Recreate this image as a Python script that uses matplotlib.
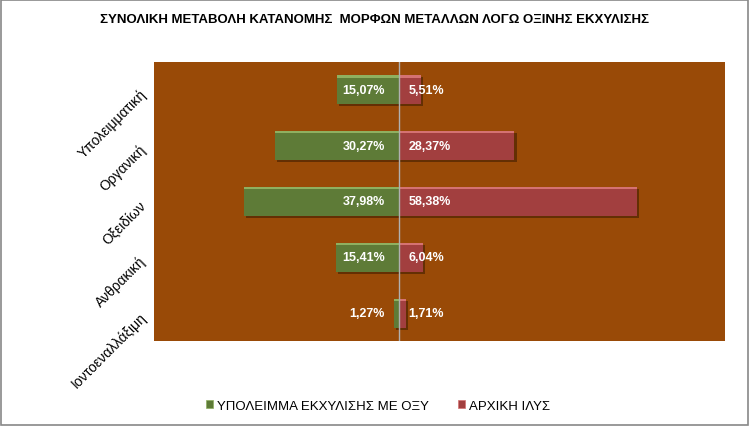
import matplotlib.pyplot as plt
import matplotlib.patheffects as pe
from matplotlib.patches import Rectangle, Patch

# Δεδομένα του διαγράμματος
categories = ['Υπολειμματική', 'Οργανική', 'Οξειδίων', 'Ανθρακική', 'Ιοντοεναλλάξιμη']
residue = [15.07, 30.27, 37.98, 15.41, 1.27]   # ΥΠΟΛΕΙΜΜΑ ΕΚΧΥΛΙΣΗΣ ΜΕ ΟΞΥ
initial = [5.51, 28.37, 58.38, 6.04, 1.71]     # ΑΡΧΙΚΗ ΙΛΥΣ
series_names = ['ΥΠΟΛΕΙΜΜΑ ΕΚΧΥΛΙΣΗΣ ΜΕ ΟΞΥ', 'ΑΡΧΙΚΗ ΙΛΥΣ']
title = 'ΣΥΝΟΛΙΚΗ ΜΕΤΑΒΟΛΗ ΚΑΤΑΝΟΜΗΣ  ΜΟΡΦΩΝ ΜΕΤΑΛΛΩΝ ΛΟΓΩ ΟΞΙΝΗΣ ΕΚΧΥΛΙΣΗΣ'

green = '#5e7b37'
red = '#a23f3f'
bg = '#994a07'

plt.rcParams['font.family'] = ['Liberation Sans', 'DejaVu Sans']

fig = plt.figure(figsize=(7.49, 4.27), dpi=100)
ax = fig.add_axes([154 / 749, 1 - 342 / 427, 571 / 749, 279 / 427])
ax.set_facecolor(bg)

y = list(range(len(categories)))
left_vals = [-v for v in residue]
h = 0.52
shadow = [pe.SimplePatchShadow(offset=(1.5, -1.5), shadow_rgbFace='#3a1a00', alpha=0.55), pe.Normal()]

b1 = ax.barh(y, left_vals, height=h, color=green, zorder=3)
b2 = ax.barh(y, initial, height=h, color=red, zorder=3)
for b in list(b1) + list(b2):
    b.set_path_effects(shadow)
# ανοιχτόχρωμη λωρίδα στην πάνω πλευρά (εφέ ανάγλυφου)
ax.barh([i - h / 2 + 0.02 for i in y], left_vals, height=0.04, color='#8fb060', zorder=4)
ax.barh([i - h / 2 + 0.02 for i in y], initial, height=0.04, color='#d57272', zorder=4)

ax.axvline(0, color='#b0b0b0', lw=1, zorder=5)

for i in y:
    ax.annotate(f'{residue[i]:.2f}%'.replace('.', ','), (0, i), xytext=(-10, 0),
                textcoords='offset points', ha='right', va='center', color='white',
                fontsize=9, fontweight='bold', zorder=6)
    ax.annotate(f'{initial[i]:.2f}%'.replace('.', ','), (0, i), xytext=(7, 0),
                textcoords='offset points', ha='left', va='center', color='white',
                fontsize=9, fontweight='bold', zorder=6)

ax.set_xlim(-60, 80)
ax.set_ylim(len(categories) - 0.5, -0.5)
ax.set_xticks([])
ax.set_yticks(y)
ax.set_yticklabels(categories, rotation=45, ha='right', rotation_mode='anchor', fontsize=10)
ax.tick_params(axis='y', length=0, pad=8)
for s in ax.spines.values():
    s.set_visible(False)

fig.text(0.5, 1 - 20 / 427, title, ha='center', va='center', fontsize=9.5,
         fontweight='bold')

handles = [Patch(facecolor=green, edgecolor='#8fb060', lw=0.5),
           Patch(facecolor=red, edgecolor='#d57272', lw=0.5)]
fig.legend(handles, series_names, loc='center', bbox_to_anchor=(378 / 749, 1 - 407 / 427),
           ncol=2, frameon=False, fontsize=9.5, handlelength=0.55, handleheight=0.55,
           columnspacing=2.2, handletextpad=0.3)

fig.patches.append(Rectangle((0.001, 0.002), 0.997, 0.996, transform=fig.transFigure,
                             fill=False, edgecolor='#888888', lw=1.2))

fig.savefig('out.png', dpi=100, facecolor='white')
